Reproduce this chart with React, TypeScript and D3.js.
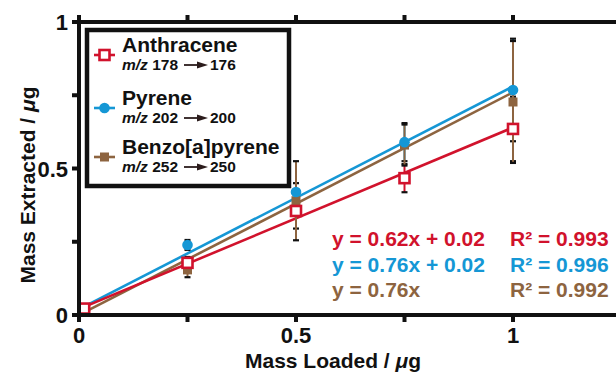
import React from "react";
import * as d3 from "d3";

// Calibration data: mass extracted vs. mass loaded (µg)
const massLoaded = [0.012, 0.25, 0.5, 0.75, 1];
const anthracene = [0.022, 0.178, 0.355, 0.467, 0.635];
const anthraceneErr = [0.01, 0.02, 0.06, 0.048, 0.11];
const pyrene = [0.02, 0.239, 0.42, 0.59, 0.768];
const pyreneErr = [0.008, 0.017, 0.03, 0.065, 0.175];
const benzo = [0.015, 0.154, 0.39, 0.58, 0.727];
const benzoErr = [0.008, 0.025, 0.135, 0.07, 0.208];

const seriesNames = ["Anthracene", "Pyrene", "Benzo[a]pyrene"];
const transitions = [["178", "176"], ["202", "200"], ["252", "250"]];
const slopes = [0.62, 0.76, 0.76];
const intercepts = [0.02, 0.02, 0];
const equations = ["y = 0.62x + 0.02", "y = 0.76x + 0.02", "y = 0.76x"];
const rSquared = ["0.993", "0.996", "0.992"];
const fitRange = [0.015, 1];

const xTicks = [0, 0.25, 0.5, 0.75, 1];
const yTicks = [0, 0.25, 0.5, 0.75, 1];
const xTickLabels = ["0", "0.5", "1"];
const yTickLabels = ["0", "0.5", "1"];

const RED = "#d1122c";
const BLUE = "#1597d5";
const BROWN = "#8d6440";
const INK = "#111";
const FONT = "'Liberation Sans', Arial, Helvetica, sans-serif";

export default function App() {
  const W = 616;
  const H = 375;
  const x = d3.scaleLinear().domain([0, 1]).range([79, 513]);
  const y = d3.scaleLinear().domain([0, 1]).range([315, 22]);

  const series = [
    { name: seriesNames[0], vals: anthracene, err: anthraceneErr, color: RED, shape: "open" },
    { name: seriesNames[1], vals: pyrene, err: pyreneErr, color: BLUE, shape: "circle" },
    { name: seriesNames[2], vals: benzo, err: benzoErr, color: BROWN, shape: "square" },
  ];
  // markers: brown underneath, then blue, red on top; error bars the other way round
  const markerOrder = [2, 1, 0];
  const errorOrder = [0, 1, 2];

  const marker = (shape: string, color: string, cx: number, cy: number, key: string) => {
    if (shape === "circle") return <circle key={key} cx={cx} cy={cy} r={5.3} fill={color} />;
    if (shape === "square")
      return <rect key={key} x={cx - 4.5} y={cy - 4.5} width={9} height={9} fill={color} />;
    return (
      <rect key={key} x={cx - 5} y={cy - 5} width={10} height={10} fill="#fff" stroke={color} strokeWidth={2.6} />
    );
  };

  const fitPath = (i: number) =>
    d3
      .line<number>()
      .x((d) => x(d))
      .y((d) => y(slopes[i] * d + intercepts[i]))(fitRange) as string;

  const legendRows = [55, 108, 157];

  return (
    <svg width={W} height={H} style={{ display: "block", position: "absolute", left: 0, top: 0 }} fontFamily={FONT}>
      <rect x={0} y={0} width={W} height={H} fill="#fff" />

      {/* regression lines */}
      {markerOrder.map((i) => (
        <path key={"fit" + i} d={fitPath(i)} stroke={series[i].color} strokeWidth={2.6} fill="none" />
      ))}

      {/* error bars */}
      {errorOrder.map((i) =>
        series[i].vals.map((v, j) => {
          const cx = x(massLoaded[j]);
          const y1 = y(v + series[i].err[j]);
          const y2 = y(v - series[i].err[j]);
          return (
            <g key={`eb${i}-${j}`}>
              <line x1={cx} x2={cx} y1={y1} y2={y2} stroke={series[i].color} strokeWidth={2} />
              <line x1={cx - 3} x2={cx + 3} y1={y1} y2={y1} stroke={INK} strokeWidth={2.2} />
              <line x1={cx - 3} x2={cx + 3} y1={y2} y2={y2} stroke={INK} strokeWidth={2.2} />
            </g>
          );
        })
      )}

      {/* markers */}
      {markerOrder.map((i) =>
        series[i].vals.map((v, j) => marker(series[i].shape, series[i].color, x(massLoaded[j]), y(v), `m${i}-${j}`))
      )}

      {/* axes */}
      <g stroke={INK} strokeWidth={4}>
        <line x1={x(0)} x2={W} y1={y(0)} y2={y(0)} />
        <line x1={x(0)} x2={W} y1={y(1)} y2={y(1)} />
        <line x1={x(0)} x2={x(0)} y1={y(1) - 2} y2={y(0) + 2} />
        {xTicks.map((t) => (
          <g key={"xt" + t}>
            <line x1={x(t)} x2={x(t)} y1={y(0)} y2={y(0) + 7} />
            <line x1={x(t)} x2={x(t)} y1={y(1)} y2={y(1) - 7} />
          </g>
        ))}
        {yTicks.map((t) => (
          <line key={"yt" + t} x1={x(0) - 7} x2={x(0)} y1={y(t)} y2={y(t)} />
        ))}
      </g>

      {/* tick labels */}
      <g fontSize={22} fontWeight="bold" fill={INK}>
        {xTickLabels.map((s) => (
          <text key={"xl" + s} x={x(+s)} y={343} textAnchor="middle">
            {s}
          </text>
        ))}
        {yTickLabels.map((s) => (
          <text key={"yl" + s} x={68} y={y(+s) + 8} textAnchor="end">
            {s}
          </text>
        ))}
      </g>

      {/* axis titles */}
      <text x={333} y={368} textAnchor="middle" fontSize={21} fontWeight="bold" fill={INK}>
        Mass Loaded / <tspan fontStyle="italic">μ</tspan>g
      </text>
      <text
        transform={`translate(35,${185}) rotate(-90)`}
        textAnchor="middle"
        fontSize={21}
        fontWeight="bold"
        fill={INK}
      >
        Mass Extracted / <tspan fontStyle="italic">μ</tspan>g
      </text>

      {/* legend */}
      <rect x={87} y={30} width={202} height={156} fill="#fff" stroke={INK} strokeWidth={4.5} />
      {series.map((s, i) => {
        const cy = legendRows[i];
        return (
          <g key={"lg" + i}>
            <line x1={94} x2={115} y1={cy} y2={cy} stroke={s.color} strokeWidth={2.6} />
            {marker(s.shape, s.color, 104.5, cy, "lm" + i)}
            <text x={122} y={cy - 3} fontSize={21} fontWeight="bold" fill={INK}>
              {s.name}
            </text>
            <text x={122} y={cy + 15} fontSize={15.5} fontWeight="bold" fill={INK}>
              <tspan fontStyle="italic">m/z</tspan>
              <tspan> {transitions[i][0]}</tspan>
            </text>
            <line x1={184} x2={199} y1={cy + 10} y2={cy + 10} stroke="#2b1c1c" strokeWidth={1.8} />
            <path d={`M197,${cy + 6.5} L208,${cy + 10} L197,${cy + 13.5} Z`} fill="#2b1c1c" />
            <text x={210} y={cy + 15} fontSize={15.5} fontWeight="bold" fill={INK}>
              {transitions[i][1]}
            </text>
          </g>
        );
      })}

      {/* fit equations */}
      {series.map((s, i) => (
        <g key={"eq" + i} fontSize={21} fontWeight="bold" fill={s.color}>
          <text x={332} y={246 + i * 25.5}>{equations[i]}</text>
          <text x={510} y={246 + i * 25.5}>R² = {rSquared[i]}</text>
        </g>
      ))}
    </svg>
  );
}
